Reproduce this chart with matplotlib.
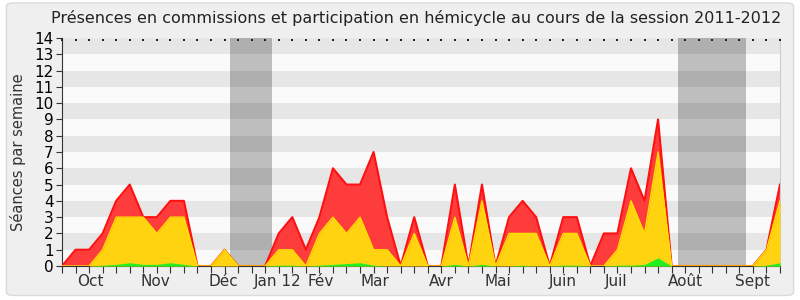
import matplotlib
matplotlib.use("Agg")
import matplotlib.pyplot as plt
import matplotlib.transforms as mtransforms
from matplotlib.patches import FancyBboxPatch
import numpy as np

# === DATA (weekly values, session 2011-2012) ===
weeks = np.arange(54)
total = [0, 1, 1, 2, 4, 5, 3, 3, 4, 4, 0, 0, 1, 0, 0, 0, 2, 3, 1, 3,
         6, 5, 5, 7, 3, 0, 3, 0, 0, 5, 0, 5, 0, 3, 4, 3, 0, 3, 3, 0,
         2, 2, 6, 4, 9, 0, 0, 0, 0, 0, 0, 0, 1, 5]
commission = [0, 0, 0, 1, 3, 3, 3, 2, 3, 3, 0, 0, 1, 0, 0, 0, 1, 1, 0, 2,
              3, 2, 3, 1, 1, 0, 2, 0, 0, 3, 0, 4, 0, 2, 2, 2, 0, 2, 2, 0,
              0, 1, 4, 2, 7, 0, 0, 0, 0, 0, 0, 0, 1, 4]
hemicycle = [0, 0, 0, 0.05, 0.1, 0.2, 0.1, 0.1, 0.2, 0.1, 0, 0, 0, 0, 0, 0, 0.05, 0.05, 0, 0.05,
             0.1, 0.15, 0.2, 0.05, 0, 0, 0, 0, 0, 0.1, 0, 0.1, 0, 0, 0.05, 0, 0, 0.05, 0.05, 0,
             0, 0.05, 0.05, 0.1, 0.5, 0, 0, 0, 0, 0, 0, 0, 0.05, 0.2]
month_labels = ["Oct", "Nov", "Déc", "Jan 12", "Fév", "Mar", "Avr", "Mai", "Juin", "Juil", "Août", "Sept"]
month_pos = [2.1, 6.9, 11.9, 15.9, 19.1, 23.1, 28.0, 32.2, 37.0, 40.9, 46.0, 51.0]
vacances = [(12.4, 15.5), (45.5, 50.5)]

# === SETUP ===
fig = plt.figure(figsize=(8, 3), dpi=100)
fig.patch.set_facecolor("white")
frame = FancyBboxPatch((0.008, 0.015), 0.984, 0.975, boxstyle="round,pad=0,rounding_size=0.01",
                       transform=fig.transFigure, facecolor="#efefef", edgecolor="#dadada", lw=1, zorder=-10)
fig.patches.append(frame)
ax = fig.add_axes([0.0775, 0.1133, 0.8975, 0.76])
ax.set_facecolor("#fafafa")

# striped background
for k in range(1, 14, 2):
    ax.axhspan(k, k + 1, color="#e6e6e6", lw=0, zorder=0)

for a, b in vacances:
    ax.axvspan(a, b, color="black", alpha=0.24, lw=0, zorder=1)

ax.fill_between(weeks, 0, total, color="#ff3c3c", lw=0, zorder=2)
ax.plot(weeks, total, color="#ff1010", lw=1.5, zorder=3)
ax.fill_between(weeks, 0, commission, color="#ffd30f", lw=0, zorder=4)
ax.plot(weeks, commission, color="#ffe000", lw=1, zorder=5)
ax.fill_between(weeks, 0, hemicycle, color="#22ee22", lw=0, zorder=6)

ax.set_xlim(0, 53)
ax.set_ylim(0, 14)
ax.set_yticks(range(15))
ax.tick_params(axis="y", labelsize=11, length=4, color="#333333", pad=2)
ax.set_xticks(weeks)
ax.set_xticklabels([])
ax.tick_params(axis="x", length=5, color="#333333")

# month names under the axis
trans = mtransforms.blended_transform_factory(ax.transData, ax.transAxes)
for lab, pos in zip(month_labels, month_pos):
    ax.text(pos, -0.035, lab, transform=trans, ha="center", va="top", fontsize=11, color="#333333")

# tiny marks along the top for each week
ax.scatter(weeks, np.full(len(weeks), 0.992), s=1.5, marker="s", color="#222222",
           transform=trans, clip_on=False, zorder=7, lw=0)

ax.spines["top"].set_visible(False)
ax.spines["right"].set_color("#cccccc")
ax.spines["left"].set_color("#333333")
ax.spines["bottom"].set_color("#333333")

ax.set_ylabel("Séances par semaine", fontsize=10.5, color="#333333", labelpad=6)
fig.text(0.52, 0.94, "Présences en commissions et participation en hémicycle au cours de la session 2011-2012",
         ha="center", va="center", fontsize=11.5, color="#222222")

fig.savefig("out.png", dpi=100, facecolor=fig.get_facecolor())
